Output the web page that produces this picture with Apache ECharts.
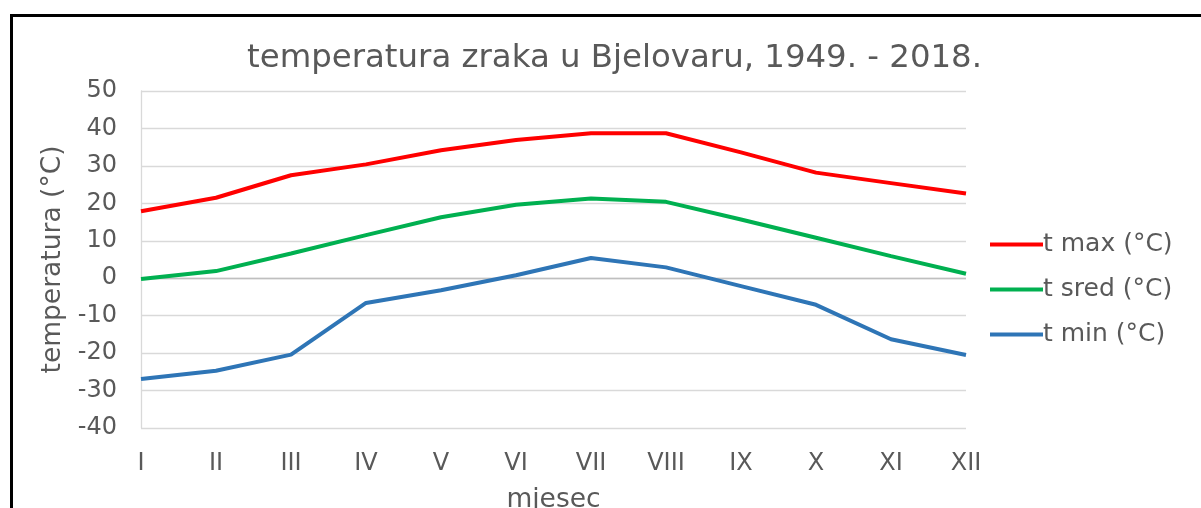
<!DOCTYPE html>
<html>
<head>
<meta charset="utf-8">
<script src="https://cdn.jsdelivr.net/npm/echarts@6/dist/echarts.min.js"></script>
<style>
html,body{margin:0;padding:0;background:#fff;}
#c{width:1201px;height:508px;}
</style>
</head>
<body>
<div id="c"></div>
<script>
const months = ['I','II','III','IV','V','VI','VII','VIII','IX','X','XI','XII'];
const tMax  = [17.9, 21.5, 27.5, 30.4, 34.2, 36.9, 38.7, 38.7, 33.6, 28.2, 25.4, 22.6];
const tSred = [-0.2, 1.9, 6.6, 11.5, 16.3, 19.6, 21.3, 20.4, 15.7, 10.8, 5.9, 1.2];
const tMin  = [-26.9, -24.7, -20.4, -6.6, -3.2, 0.8, 5.4, 2.9, -2.1, -7.1, -16.3, -20.5];
const seriesNames = ['t max (°C)', 't sred (°C)', 't min (°C)'];
const titleText = 'temperatura zraka u Bjelovaru, 1949. - 2018.';

const FONT = 'DejaVu Sans';
const TXT = '#595959';
const chart = echarts.init(document.getElementById('c'), null, {renderer:'canvas'});
function line(name, data, color, withZero){
  const s = {
    name, type:'line', data, symbol:'none', smooth:false,
    lineStyle:{color, width:4}, itemStyle:{color}, z:3
  };
  if (withZero){
    s.markLine = {silent:true, symbol:'none', label:{show:false},
      lineStyle:{color:'#bfbfbf', width:1.3, type:'solid'}, data:[{yAxis:0}], z:1};
  }
  return s;
}
chart.setOption({
  animation:false,
  backgroundColor:'#fff',
  textStyle:{fontFamily:FONT},
  title:{text:titleText, left:242, top:38,
    textStyle:{fontFamily:FONT, fontSize:32.4, fontWeight:'normal', color:TXT}},
  legend:{orient:'vertical', left:985, top:226, itemWidth:53, itemHeight:4, icon:'rect',
    itemGap:18, textStyle:{fontFamily:FONT, fontSize:25, color:TXT, lineHeight:27, padding:[0,0,0,-5]},
    data:seriesNames},
  grid:{left:141, right:235, top:91, bottom:80, containLabel:false, outerBoundsMode:'none'},
  xAxis:{type:'category', data:months, boundaryGap:false,
    axisLine:{show:false, onZero:false}, axisTick:{show:false},
    axisLabel:{fontFamily:FONT, fontSize:24, color:TXT, margin:24},
    name:'mjesec', nameLocation:'middle', nameGap:59,
    nameTextStyle:{fontFamily:FONT, fontSize:26.5, color:TXT},
    splitLine:{show:false}},
  yAxis:{type:'value', min:-40, max:50, interval:10,
    axisLine:{show:true, lineStyle:{color:'#d9d9d9', width:1.3}}, axisTick:{show:false},
    axisLabel:{fontFamily:FONT, fontSize:24, color:TXT, margin:24},
    splitLine:{show:true, lineStyle:{color:'#d9d9d9', width:1.3}},
    name:'temperatura (°C)', nameLocation:'middle', nameGap:66, nameRotate:90,
    nameTextStyle:{fontFamily:FONT, fontSize:26.5, color:TXT}},
  graphic:[{type:'rect', shape:{x:11.5, y:15.5, width:1300, height:600},
    style:{fill:null, stroke:'#000', lineWidth:3}, silent:true, z:100}],
  series:[
    line(seriesNames[0], tMax, '#FF0000', true),
    line(seriesNames[1], tSred, '#00B050', false),
    line(seriesNames[2], tMin, '#2E75B6', false)
  ]
});
</script>
</body>
</html>
